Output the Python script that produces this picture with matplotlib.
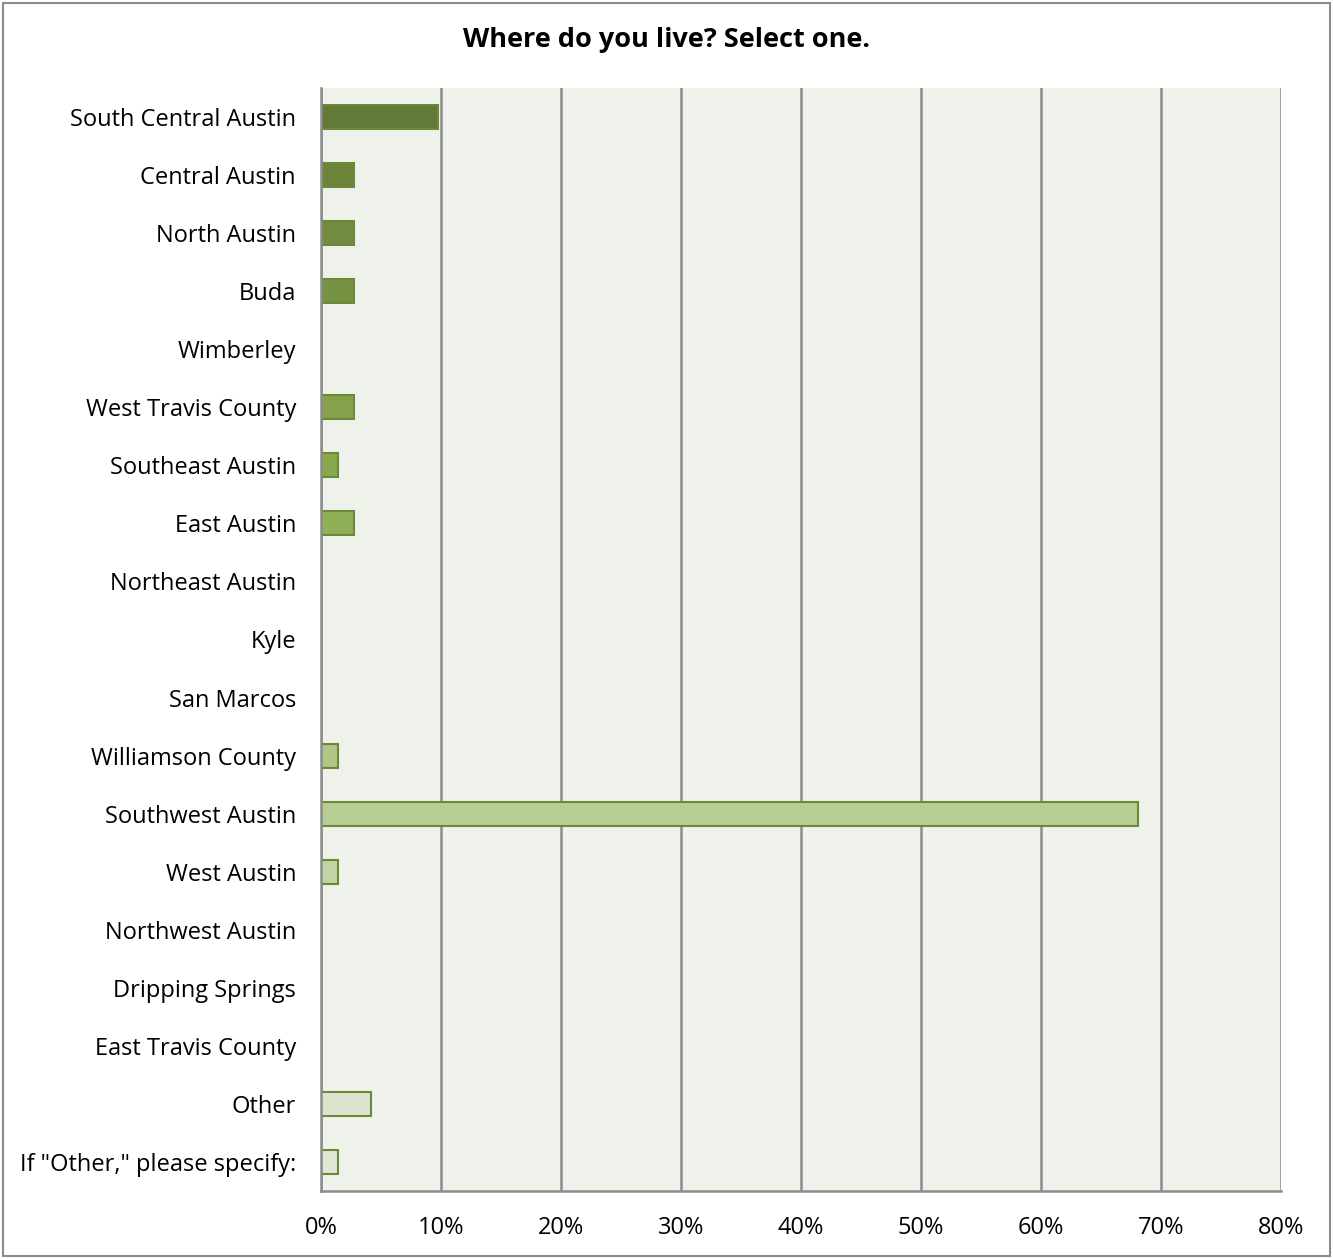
import matplotlib.pyplot as plt
import numpy as np
from matplotlib.patches import Rectangle

plt.rcParams['font.family'] = ['Open Sans', 'DejaVu Sans']

categories = ['South Central Austin', 'Central Austin', 'North Austin', 'Buda', 'Wimberley',
              'West Travis County', 'Southeast Austin', 'East Austin', 'Northeast Austin', 'Kyle',
              'San Marcos', 'Williamson County', 'Southwest Austin', 'West Austin',
              'Northwest Austin', 'Dripping Springs', 'East Travis County', 'Other',
              'If "Other," please specify:']
values = [9.72, 2.78, 2.78, 2.78, 0, 2.78, 1.39, 2.78, 0, 0, 0, 1.39, 68.06, 1.39, 0, 0, 0, 4.17, 1.39]

# dark green at the top fading to pale green at the bottom
colors = ['#63793a', '#6b8439', '#718b3f', '#789244', '#7f9a48', '#85a14c', '#89a94f',
          '#90b057', '#98b663', '#a0bb6e', '#a8c079', '#b1c688', '#b8cd93', '#c2d4a4',
          '#c9d8b0', '#cfdcb9', '#d5e0c2', '#dae4cb', '#e0e8d4']

fig = plt.figure(figsize=(13.33, 12.59), dpi=100)
ax = fig.add_axes([321 / 1333, 1 - 1191 / 1259, 960 / 1333, 1103 / 1259])
ax.set_facecolor('#eff2ea')

y = np.arange(len(categories))
lw = [1.5 if v > 0 else 0 for v in values]
ax.barh(y, values, height=0.41, color=colors, edgecolor='#6b8a38', linewidth=lw, zorder=3)

ax.set_xlim(0, 80)
ax.set_ylim(len(categories) - 0.5, -0.5)
ax.set_xticks(np.arange(0, 81, 10))
ax.set_xticklabels([f'{v}%' for v in range(0, 81, 10)], fontsize=17)
ax.set_yticks(y)
ax.set_yticklabels(categories, fontsize=17)
ax.tick_params(axis='both', length=0)
ax.tick_params(axis='y', pad=18)
ax.tick_params(axis='x', pad=18)
ax.grid(axis='x', color='#8c8c8c', linewidth=1.8, zorder=0)
for s in ['top', 'right']:
    ax.spines[s].set_visible(False)
for s in ['left', 'bottom']:
    ax.spines[s].set_color('#8c8c8c')
    ax.spines[s].set_linewidth(1.8)
    ax.spines[s].set_zorder(4)

fig.text(0.5, 1 - 40 / 1259, 'Where do you live? Select one.', ha='center', va='center',
         fontsize=19.5, fontweight='bold')

fig.patches.append(Rectangle((0.002, 0.002), 0.996, 0.996, transform=fig.transFigure,
                             fill=False, edgecolor='#8c8c8c', linewidth=1.5))

fig.savefig('out.png', dpi=100, facecolor='white')
